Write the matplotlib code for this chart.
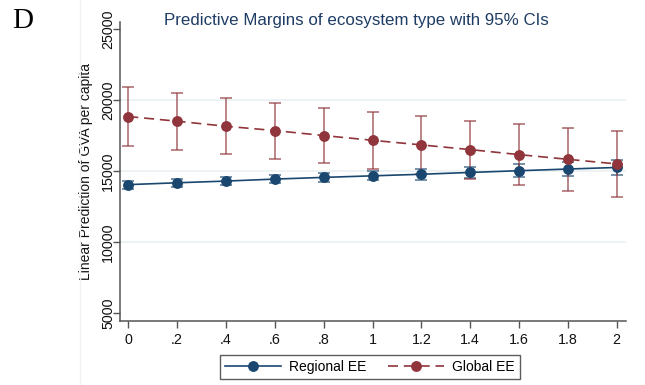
import matplotlib
matplotlib.use("Agg")
import matplotlib.pyplot as plt
import numpy as np

# margins over the EE share (0 .. 2)
x_vals = [0, 0.2, 0.4, 0.6, 0.8, 1.0, 1.2, 1.4, 1.6, 1.8, 2.0]
x_labels = ["0", ".2", ".4", ".6", ".8", "1", "1.2", "1.4", "1.6", "1.8", "2"]

regional = [14050, 14180, 14300, 14440, 14560, 14670, 14780, 14910, 15030, 15150, 15260]
regional_hi = [14330, 14450, 14560, 14700, 14850, 14980, 15150, 15320, 15500, 15650, 15820]
regional_lo = [13770, 13910, 14040, 14180, 14270, 14360, 14410, 14500, 14560, 14650, 14700]

global_ee = [18850, 18520, 18165, 17860, 17510, 17175, 16850, 16520, 16165, 15835, 15510]
global_hi = [20920, 20495, 20140, 19790, 19465, 19155, 18870, 18565, 18335, 18070, 17840]
global_lo = [16800, 16520, 16215, 15880, 15580, 15155, 14830, 14450, 14025, 13600, 13150]

y_ticks = [5000, 10000, 15000, 20000, 25000]
grid_at = [10000, 15000, 20000]

NAVY = "#1a476f"
MAROON = "#90353b"
AXIS_GRAY = "#555555"

plt.rcParams["font.family"] = ["Liberation Sans", "DejaVu Sans"]

fig = plt.figure(figsize=(6.45, 3.85), dpi=100)
ax = fig.add_axes([120 / 645, 1 - 321 / 385, (626 - 120) / 645, (321 - 22) / 385])

for g in grid_at:
    ax.axhline(g, color="#eaf1f3", lw=1.2, zorder=0)


def draw_series(y, lo, hi, color, ls, label):
    y = np.array(y)
    err = [y - np.array(lo), np.array(hi) - y]
    ax.errorbar(x_vals, y, yerr=err, fmt="none", ecolor=color, alpha=0.65,
                elinewidth=1.3, capsize=4, capthick=1.3, zorder=2)
    ax.plot(x_vals, y, color=color, ls=ls, lw=1.2, marker="o", ms=6.8,
            dashes=(6, 3.5) if ls == "--" else (None, None),
            label=label, zorder=3)


draw_series(regional, regional_lo, regional_hi, NAVY, "-", "Regional EE")
draw_series(global_ee, global_lo, global_hi, MAROON, "--", "Global EE")

ax.set_xlim(-0.034, 2.038)
ax.set_ylim(4436, 25515)
ax.set_xticks(x_vals)
ax.set_xticklabels(x_labels)
ax.set_yticks(y_ticks)
ax.set_yticklabels([str(t) for t in y_ticks], rotation=90, va="center")

for side in ["top", "right"]:
    ax.spines[side].set_visible(False)
for side in ["left", "bottom"]:
    ax.spines[side].set_color(AXIS_GRAY)
    ax.spines[side].set_linewidth(1.1)
ax.tick_params(axis="both", color=AXIS_GRAY, width=1.0, length=5,
               labelsize=10.3, labelcolor="#111111")
ax.tick_params(axis="y", pad=-1.5)
ax.tick_params(axis="x", pad=4)

ax.set_ylabel("Linear Prediction of GVA per capita", fontsize=10,
              color="#111111")
ax.yaxis.set_label_coords((93 - 120) / 506, (321 - 171) / 299)

fig.text(356 / 645, 1 - 20 / 385, "Predictive Margins of ecosystem type with 95% CIs",
         ha="center", va="center", fontsize=12.2, color="#1e3c64")
fig.text(12 / 645, 1 - 21 / 385, "D", ha="left", va="center", fontsize=21,
         family="Liberation Serif", color="black")

leg = ax.legend(loc="center", bbox_to_anchor=(370 / 645, 1 - 367 / 385),
                bbox_transform=fig.transFigure, ncol=2, frameon=True,
                fancybox=False, edgecolor="#333333", fontsize=10,
                handlelength=4.0, columnspacing=1.6, borderpad=0.35,
                handletextpad=0.6)
leg.get_frame().set_linewidth(1.0)

fig.add_artist(plt.Line2D([80 / 645, 80 / 645], [0, 1], color="#f2f2f2", lw=1))

fig.savefig("out.png", dpi=100)
